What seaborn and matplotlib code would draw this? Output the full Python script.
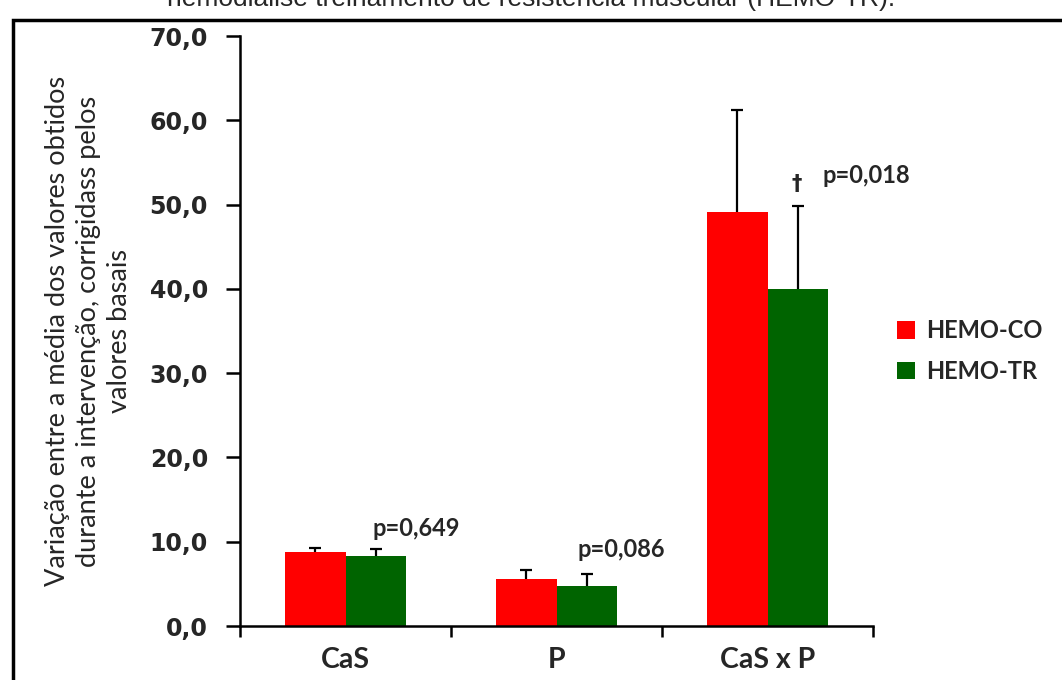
import pandas as pd
import numpy as np
import matplotlib
matplotlib.use('Agg')
import matplotlib.pyplot as plt
import seaborn as sns
from matplotlib.patches import Rectangle

# dados
categorias = ['CaS', 'P', 'CaS x P']
grupos = ['HEMO-CO', 'HEMO-TR']
media_co = [8.8, 5.6, 49.1]
media_tr = [8.3, 4.8, 40.0]
erro_co = [0.4, 1.1, 12.1]
erro_tr = [0.8, 1.4, 9.8]
p_valores = ['p=0,649', 'p=0,086', 'p=0,018']
y_ticks = [0, 10, 20, 30, 40, 50, 60, 70]
y_label = ('Variação entre a média dos valores obtidos\n'
           'durante a intervenção, corrigidass pelos\n'
           'valores basais')
titulo = 'hemodiálise treinamento de resistência muscular (HEMO-TR).'

cores = {'HEMO-CO': '#FF0000', 'HEMO-TR': '#006400'}
fonte = ['Lato', 'DejaVu Sans']

df = pd.DataFrame({
    'categoria': categorias * 2,
    'grupo': [grupos[0]] * 3 + [grupos[1]] * 3,
    'valor': media_co + media_tr,
})

sns.set_style('white')
plt.rcParams['font.family'] = fonte

fig = plt.figure(figsize=(10.62, 6.8), dpi=100)
ax = fig.add_axes([240 / 1062, 54 / 680, 633 / 1062, 590 / 680])

sns.barplot(data=df, x='categoria', y='valor', hue='grupo', order=categorias,
            hue_order=grupos, palette=cores, width=0.57, gap=0, errorbar=None,
            saturation=1, linewidth=0, edgecolor='none', ax=ax)

# barras de erro (só para cima)
for i, (medias, erros) in enumerate([(media_co, erro_co), (media_tr, erro_tr)]):
    xs = np.arange(len(categorias)) + (i - 0.5) * 0.285
    eb = ax.errorbar(xs, medias, yerr=[np.zeros(len(erros)), erros], fmt='none',
                     ecolor='black', elinewidth=1.6, capsize=4, capthick=1.6)
    eb[1][0].set_visible(False)  # sem cap embaixo

# p-valores
p_pos = [(0.126, 10.2), (1.10, 7.7), (2.26, 52.1)]
for txt, (x, y) in zip(p_valores, p_pos):
    ax.text(x, y, txt, fontsize=17, fontweight='bold', ha='left', va='bottom',
            family=fonte)
ax.text(2.14, 51.3, '\u2020', fontsize=15, fontweight='bold', ha='center', va='bottom',
        family=['DejaVu Sans'])

ax.set_xlim(-0.5, 2.5)
ax.set_ylim(0, 70)
ax.set_yticks(y_ticks)
ax.set_yticklabels([f'{v:.1f}'.replace('.', ',') for v in y_ticks],
                   fontsize=17, fontweight='bold', family='DejaVu Sans')
ax.set_xticks([-0.5, 0.5, 1.5, 2.5])
ax.set_xticklabels([])
ax.set_xticks([0, 1, 2], minor=True)
ax.set_xticklabels(categorias, minor=True, fontsize=20.5, fontweight='bold',
                   family=fonte)
ax.tick_params(axis='x', which='minor', length=0, pad=15)
ax.tick_params(axis='x', which='major', direction='out', length=8, width=1.8,
               color='black', bottom=True)
ax.tick_params(axis='y', direction='out', length=10, width=1.8, color='black',
               left=True, pad=13)
ax.set_xlabel('')
ax.set_ylabel(y_label, fontsize=19.5, linespacing=1.3, family=fonte)
ax.yaxis.set_label_coords(-0.17, 0.5)

for lado in ['top', 'right']:
    ax.spines[lado].set_visible(False)
for lado in ['left', 'bottom']:
    ax.spines[lado].set_color('black')
    ax.spines[lado].set_linewidth(1.8)

leg = ax.legend(loc='center left', bbox_to_anchor=(1.005, 0.466), frameon=False,
                handlelength=0.75, handleheight=0.75, handletextpad=0.45,
                labelspacing=0.75, prop={'family': fonte,
                                         'weight': 'bold', 'size': 17})

# moldura e título cortado no topo (como na imagem original)
fig.patches.append(Rectangle((13 / 1062, -0.1), 1.2, 0.1 + 1 - 20 / 680,
                             transform=fig.transFigure, fill=False,
                             edgecolor='black', linewidth=2.5))
fig.text(0.5, 1.0 + 1 / 680, titulo, ha='center', va='center', fontsize=19,
         family=['Liberation Sans', 'DejaVu Sans'])

fig.savefig('out.png', dpi=100)
